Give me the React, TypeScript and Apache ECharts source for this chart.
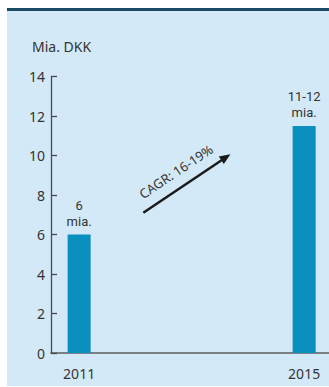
import React, { useEffect, useRef } from "react";
import * as echarts from "echarts";

// Revenue in billions of DKK, 2011 and 2015 outlook
const years = ["2011", "2012", "2013", "2014", "2015"];
const revenue: (number | null)[] = [6, null, null, null, 11.5];
const valueLabels = ["6\nmia.", "", "", "", "11-12\nmia."];
const shownYears = ["2011", "2015"];
const unitLabel = "Mia. DKK";
const growthLabel = "CAGR: 16-19%";

const FONT = "'Noto Sans', 'Open Sans', sans-serif";
const LABEL_FONT = "Roboto, 'Noto Sans', sans-serif";
const TEXT = "#333333";
const BAR = "#0a8fbf";

export default function App() {
  const ref = useRef<HTMLDivElement>(null);

  useEffect(() => {
    if (!ref.current) return;
    const chart = echarts.init(ref.current, undefined, { renderer: "svg" });

    // growth arrow geometry (annotation)
    const ax = 143.3;
    const ay = 212.7;
    const dx = 87.2;
    const dy = 58.5;
    const len = Math.sqrt(dx * dx + dy * dy);
    const angle = Math.atan2(dy, dx);

    chart.setOption({
      animation: false,
      textStyle: { fontFamily: FONT },
      title: {
        text: unitLabel,
        left: 32,
        top: 39,
        padding: 0,
        textStyle: { fontSize: 14, fontWeight: "normal", color: TEXT, fontFamily: FONT },
      },
      grid: {
        left: 51,
        top: 76.5,
        width: 281.25,
        bottom: 34,
        containLabel: false,
        outerBoundsMode: "none",
      },
      xAxis: {
        type: "category",
        data: years,
        axisLine: { show: true, lineStyle: { color: "#5e5e5e", width: 1.6 } },
        axisTick: { show: false },
        axisLabel: {
          interval: 0,
          margin: 13,
          fontSize: 14,
          color: TEXT,
          fontFamily: FONT,
          formatter: (v: string) => (shownYears.includes(v) ? v : ""),
        },
        splitLine: { show: false },
      },
      yAxis: {
        type: "value",
        min: 0,
        max: 14,
        interval: 2,
        axisLine: { show: true, lineStyle: { color: "#4a4a4a", width: 1.3 } },
        axisTick: { show: true, inside: true, length: 6, lineStyle: { color: "#4a4a4a", width: 1.3 } },
        axisLabel: { margin: 6, fontSize: 14, color: TEXT, fontFamily: FONT },
        splitLine: { show: false },
      },
      series: [
        {
          type: "bar",
          data: revenue,
          barWidth: 23,
          itemStyle: { color: BAR },
          label: {
            show: true,
            position: "top",
            distance: 5.5,
            fontSize: 13,
            lineHeight: 16,
            align: "center",
            color: TEXT,
            fontFamily: LABEL_FONT,
            formatter: (p: any) => valueLabels[p.dataIndex],
          },
        },
      ],
      graphic: [
        {
          type: "group",
          x: ax,
          y: ay,
          rotation: angle,
          children: [
            {
              type: "line",
              shape: { x1: 0, y1: 0, x2: len - 8, y2: 0 },
              style: { stroke: "#1a1a1a", lineWidth: 2.5 },
            },
            {
              type: "polygon",
              shape: { points: [[len, 0], [len - 11, -4.5], [len - 11, 4.5]] },
              style: { fill: "#1a1a1a" },
            },
            {
              type: "text",
              x: len / 2 - 2.4,
              y: -16,
              style: {
                text: growthLabel,
                align: "center",
                verticalAlign: "middle",
                fontSize: 13,
                fill: TEXT,
                fontFamily: FONT,
              },
            },
          ],
        },
      ],
    });

    return () => chart.dispose();
  }, []);

  return (
    <div style={{ position: "fixed", left: 0, top: 0, width: 329, height: 387, background: "#ffffff", overflow: "hidden" }}>
      <div
        style={{
          position: "absolute",
          left: 7,
          top: 8,
          width: 322,
          height: 375,
          background: "#d3e9f7",
          borderTop: "3px solid #1b4a63",
        }}
      />
      <div ref={ref} style={{ position: "absolute", left: 0, top: 0, width: 329, height: 387 }} />
    </div>
  );
}
